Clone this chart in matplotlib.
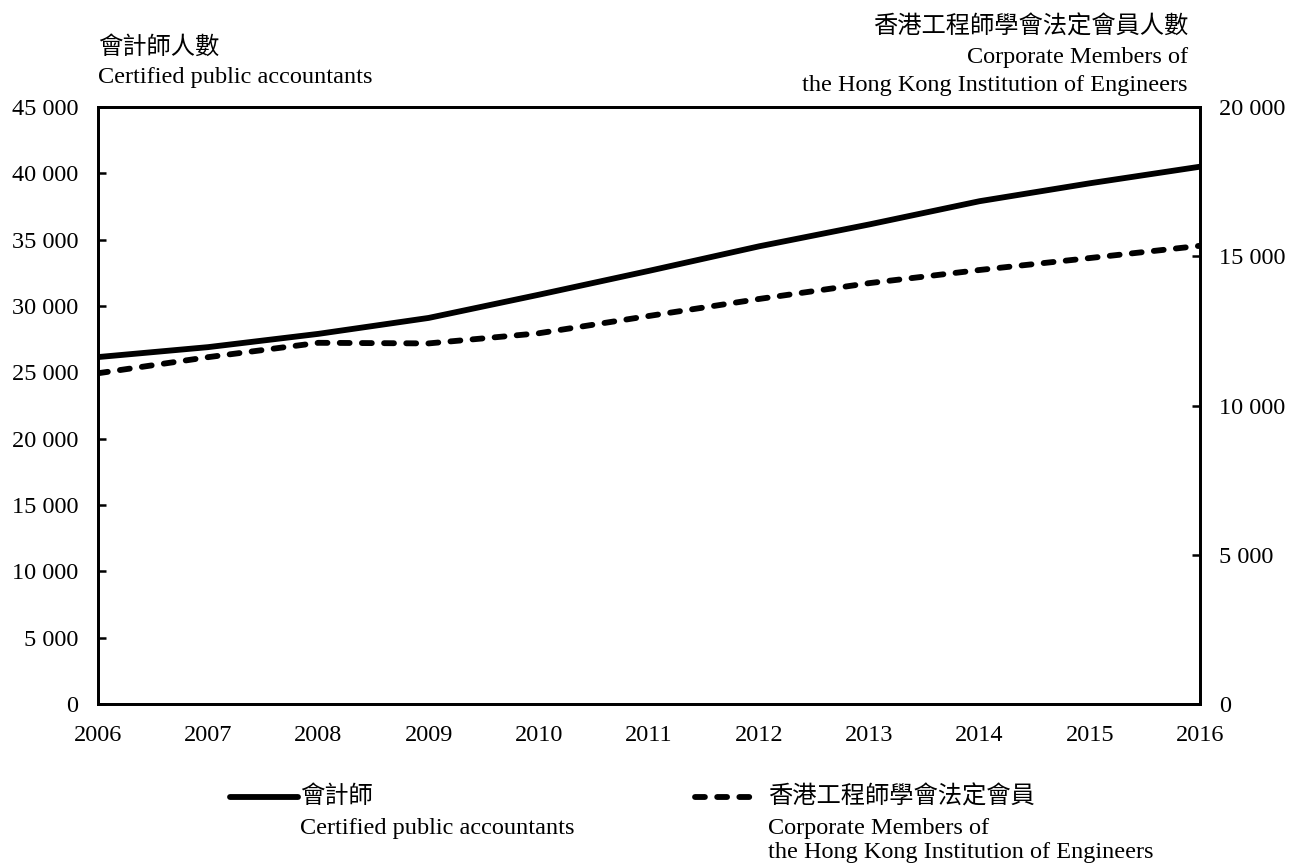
import matplotlib
matplotlib.use("Agg")
import matplotlib.pyplot as plt
from matplotlib.lines import Line2D

plt.rcParams['font.family'] = ['Liberation Serif', 'Noto Sans CJK TC', 'DejaVu Sans']

years = [2006, 2007, 2008, 2009, 2010, 2011, 2012, 2013, 2014, 2015, 2016]
accountants = [26150, 26900, 27900, 29100, 30850, 32650, 34500, 36150, 37900, 39250, 40500]
engineers = [11080, 11620, 12100, 12080, 12420, 13000, 13570, 14100, 14540, 14940, 15350]

left_ticks = [0, 5000, 10000, 15000, 20000, 25000, 30000, 35000, 40000, 45000]
right_ticks = [0, 5000, 10000, 15000, 20000]


def fmt(v):
    return '{:,}'.format(v).replace(',', ' ')


fs = 17.5
lw = 4.2
dash = (1.7, 2.1)

fig = plt.figure(figsize=(12.96, 8.63), dpi=100)
ax = fig.add_axes([98 / 1296, 1 - 704 / 863, 1102 / 1296, 597 / 863])
ax2 = ax.twinx()

ax.plot(years, accountants, color='black', lw=lw, solid_capstyle='butt')
ax2.plot(years, engineers, color='black', lw=lw, dashes=dash, dash_capstyle='round')

ax.set_xlim(2006, 2016)
ax.set_ylim(0, 45000)
ax2.set_ylim(0, 20000)

ax.set_xticks(years)
ax.set_xticklabels([str(y) for y in years], fontsize=fs)
ax.set_yticks(left_ticks)
ax.set_yticklabels([fmt(v) for v in left_ticks], fontsize=fs)
ax2.set_yticks(right_ticks)
ax2.set_yticklabels([fmt(v) for v in right_ticks], fontsize=fs)

ax.tick_params(axis='x', length=0, pad=15)
ax.tick_params(axis='y', direction='in', length=6, width=1.8, pad=14)
ax2.tick_params(axis='y', direction='in', length=6, width=1.8, pad=14)

for a in (ax, ax2):
    for s in a.spines.values():
        s.set_linewidth(2)

fig.text(98 / 1296, 1 - 47 / 863, '會計師人數', fontsize=fs, va='center', ha='left')
fig.text(98 / 1296, 1 - 77 / 863, 'Certified public accountants', fontsize=fs, va='center', ha='left')
fig.text(1188 / 1296, 1 - 27 / 863, '香港工程師學會法定會員人數', fontsize=fs, va='center', ha='right')
fig.text(1188 / 1296, 1 - 57 / 863, 'Corporate Members of', fontsize=fs, va='center', ha='right')
fig.text(1188 / 1296, 1 - 85 / 863, 'the Hong Kong Institution of Engineers', fontsize=fs, va='center', ha='right')

# legend
fig.add_artist(Line2D([230 / 1296, 298 / 1296], [1 - 797 / 863] * 2, color='black', lw=lw,
                      solid_capstyle='round', transform=fig.transFigure))
fig.text(300 / 1296, 1 - 797 / 863, '會計師', fontsize=fs, va='center', ha='left')
fig.text(300 / 1296, 1 - 828 / 863, 'Certified public accountants', fontsize=fs, va='center', ha='left')

fig.add_artist(Line2D([695 / 1296, 760 / 1296], [1 - 797 / 863] * 2, color='black', lw=lw,
                      dashes=dash, dash_capstyle='round', transform=fig.transFigure))
fig.text(768 / 1296, 1 - 797 / 863, '香港工程師學會法定會員', fontsize=fs, va='center', ha='left')
fig.text(768 / 1296, 1 - 828 / 863, 'Corporate Members of', fontsize=fs, va='center', ha='left')
fig.text(768 / 1296, 1 - 852 / 863, 'the Hong Kong Institution of Engineers', fontsize=fs, va='center', ha='left')

fig.savefig('out.png', dpi=100)
